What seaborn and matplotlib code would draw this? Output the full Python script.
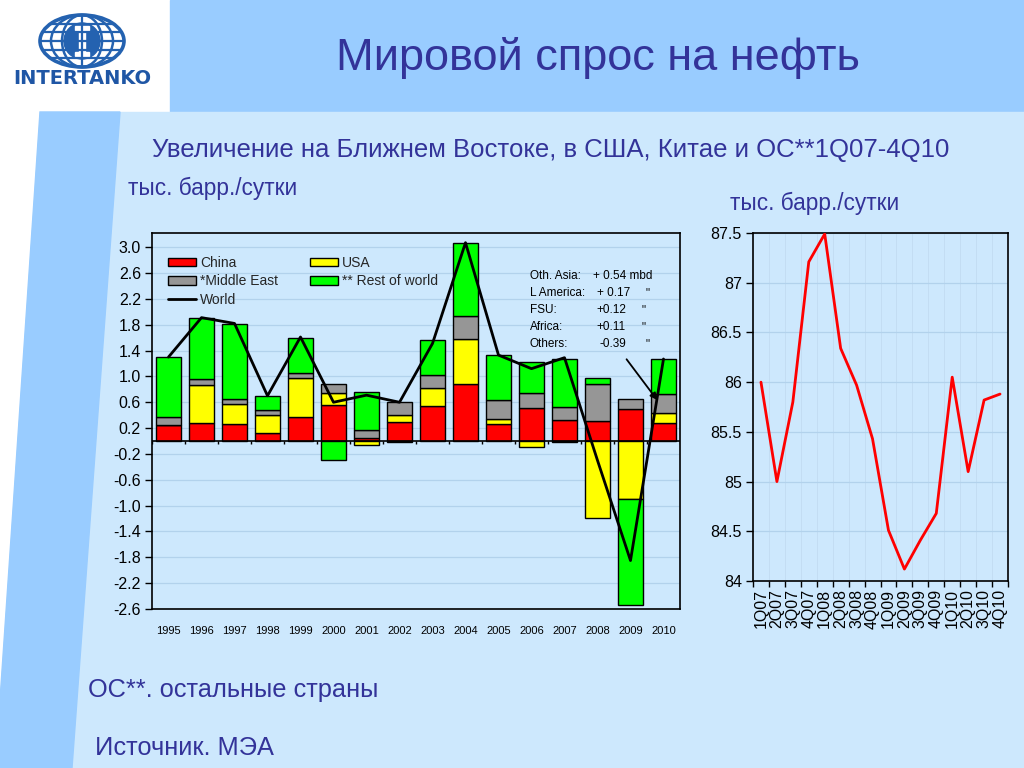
import numpy as np
import matplotlib
matplotlib.use("Agg")
import matplotlib.pyplot as plt
import matplotlib.patches as mpatches
from matplotlib.lines import Line2D
import seaborn as sns

# ---------------- data ----------------
years = [str(y) for y in range(1995, 2011)]
china = [0.25, 0.28, 0.26, 0.12, 0.37, 0.56, 0.04, 0.29, 0.54, 0.88, 0.26, 0.51, 0.32, 0.31, 0.50, 0.28]
usa = [0.00, 0.59, 0.32, 0.29, 0.60, 0.18, -0.06, 0.12, 0.28, 0.70, 0.08, -0.10, -0.02, -1.19, -0.90, 0.16]
middle_east = [0.12, 0.09, 0.065, 0.07, 0.09, 0.15, 0.13, 0.20, 0.20, 0.35, 0.30, 0.24, 0.21, 0.57, 0.15, 0.29]
rest_world = [0.93, 0.95, 1.17, 0.22, 0.54, -0.30, 0.59, -0.01, 0.54, 1.14, 0.69, 0.47, 0.74, 0.10, -1.64, 0.54]
world = [1.30, 1.91, 1.82, 0.70, 1.61, 0.60, 0.71, 0.60, 1.51, 3.07, 1.33, 1.12, 1.29, -0.30, -1.85, 1.27]

left_yticks = [-2.6, -2.2, -1.8, -1.4, -1.0, -0.6, -0.2, 0.2, 0.6, 1.0, 1.4, 1.8, 2.2, 2.6, 3.0]

quarters = ["1Q07", "2Q07", "3Q07", "4Q07", "1Q08", "2Q08", "3Q08", "4Q08",
            "1Q09", "2Q09", "3Q09", "4Q09", "1Q10", "2Q10", "3Q10", "4Q10"]
demand = [86.00, 85.00, 85.80, 87.21, 87.49, 86.34, 85.97, 85.43,
          84.51, 84.12, 84.41, 84.68, 86.05, 85.10, 85.82, 85.88]
right_yticks = [84, 84.5, 85, 85.5, 86, 86.5, 87, 87.5]

note_labels = ["Oth. Asia:", "L America:", "FSU:", "Africa:", "Others:"]
note_values = ["+ 0.54 mbd", "+ 0.17", "+0.12", "+0.11", "-0.39"]

# ---------------- style ----------------
sns.set_theme(style="white")
plt.rcParams['font.family'] = ['Liberation Sans', 'DejaVu Sans']

BG = '#cde8fd'
BAND = '#99ccff'
TXT = '#333399'
GRID = '#b2d2ec'

W, H = 1024, 768
fig = plt.figure(figsize=(10.24, 7.68), dpi=100)
fig.patch.set_facecolor('white')

def fx(x):
    return x / W

def fy(y):
    return 1 - y / H

# background shapes
fig.patches.append(mpatches.Rectangle((fx(170), fy(112)), 1 - fx(170), 112 / H,
                                      transform=fig.transFigure, color=BAND, zorder=-10))
fig.patches.append(mpatches.Polygon([(fx(40), fy(112)), (1, fy(112)), (1, 0), (0, 0), (0, fy(700))],
                                    closed=True, transform=fig.transFigure, color=BG, zorder=-10))
fig.patches.append(mpatches.Polygon([(fx(40), fy(112)), (fx(120), fy(112)), (fx(72), 0), (0, 0), (0, fy(700))],
                                    closed=True, transform=fig.transFigure, color=BAND, zorder=-10))

# ---------------- logo ----------------
lax = fig.add_axes([0, fy(110), 170 / W, 110 / H])
lax.set_xlim(0, 170)
lax.set_ylim(110, 0)
lax.axis('off')
LB = '#2462b0'
cx, cy = 82, 41
lax.add_patch(mpatches.Ellipse((cx, cy), 84, 52, fill=False, lw=2.6, ec=LB))
for w in (62, 40):
    lax.add_patch(mpatches.Ellipse((cx, cy), w, 52, fill=False, lw=1.8, ec=LB))
for dy in (-17, -9, 0, 9, 17):
    hw = 42 * np.sqrt(max(0, 1 - (dy / 26) ** 2))
    lax.plot([cx - hw, cx + hw], [cy + dy, cy + dy], color=LB, lw=1.6)
lax.plot([cx, cx], [cy - 26, cy + 26], color=LB, lw=1.6)
lax.add_patch(mpatches.Circle((cx, cy), 18, color=LB))
lax.add_patch(mpatches.Rectangle((cx - 3, cy - 13), 6, 26, color='white'))
lax.add_patch(mpatches.Rectangle((cx - 7, cy - 15), 14, 4, color='white'))
lax.add_patch(mpatches.Rectangle((cx - 7, cy + 11), 14, 4, color='white'))
lax.text(82, 78, "INTERTANKO", ha='center', va='center', color='#1f56a5',
         fontsize=14, fontweight='heavy', family='DejaVu Sans')

# ---------------- texts ----------------
fig.text(fx(598), fy(58), "Мировой спрос на нефть", ha='center', va='center', color=TXT, fontsize=32.5)
fig.text(fx(152), fy(150), "Увеличение на Ближнем Востоке, в США, Китае и ОС**1Q07-4Q10",
         ha='left', va='center', color=TXT, fontsize=18.5)
fig.text(fx(128), fy(188), "тыс. барр./сутки", ha='left', va='center', color=TXT, fontsize=16.3)
fig.text(fx(730), fy(203), "тыс. барр./сутки", ha='left', va='center', color=TXT, fontsize=16.3)
fig.text(fx(88), fy(690), "ОС**. остальные страны", ha='left', va='center', color=TXT, fontsize=18.3)
fig.text(fx(95), fy(748), "Источник. МЭА", ha='left', va='center', color=TXT, fontsize=18.3)

# ---------------- left chart ----------------
ax = fig.add_axes([fx(152), fy(609), (680 - 152) / W, (609 - 233) / H])
ax.set_facecolor(BG)
x = np.arange(len(years))
series = [(china, '#ff0000', 'China'), (usa, '#ffff00', 'USA'),
          (middle_east, '#969696', '*Middle East'), (rest_world, '#00ff00', '** Rest of world')]
pos_b = np.zeros(len(years))
neg_b = np.zeros(len(years))
for vals, col, lab in series:
    v = np.array(vals, dtype=float)
    bottoms = np.where(v >= 0, pos_b, neg_b)
    ax.bar(x, v, bottom=bottoms, width=0.76, color=col, edgecolor='black', linewidth=1, zorder=3)
    pos_b = pos_b + np.where(v >= 0, v, 0)
    neg_b = neg_b + np.where(v < 0, v, 0)

sns.lineplot(x=x, y=world, color='black', lw=2, ax=ax, zorder=5)

ax.set_xlim(-0.5, len(years) - 0.5)
ax.set_ylim(-2.6, 3.22)
ax.set_yticks(left_yticks)
ax.set_yticklabels([f"{t:.1f}" for t in left_yticks], fontsize=11.5, color='black')
ax.set_xticks(x)
ax.set_xticklabels(years, fontsize=8, color='black')
ax.tick_params(axis='x', length=0, pad=12)
ax.tick_params(axis='y', length=5, width=1, direction='out', left=True, color='black', pad=3)
ax.grid(axis='y', color=GRID, lw=0.9, zorder=0)
for s in ax.spines.values():
    s.set_color('black')
    s.set_linewidth(1.2)
ax.axhline(0, color='black', lw=1.2, zorder=4)
ax.vlines(np.arange(len(years) + 1) - 0.5, -0.05, 0, color='black', lw=1, zorder=4)

handles = [mpatches.Patch(facecolor='#ff0000', edgecolor='black', label='China'),
           mpatches.Patch(facecolor='#969696', edgecolor='black', label='*Middle East'),
           Line2D([0], [0], color='black', lw=2, label='World'),
           mpatches.Patch(facecolor='#ffff00', edgecolor='black', label='USA'),
           mpatches.Patch(facecolor='#00ff00', edgecolor='black', label='** Rest of world')]
leg = ax.legend(handles=handles, ncol=2, loc='upper left', bbox_to_anchor=(0.02, 0.953),
                frameon=False, fontsize=10, handlelength=2.0, handleheight=0.55,
                labelspacing=0.3, columnspacing=2.3, handletextpad=0.3, borderaxespad=0)

# note
val_x = [593, 597, 596, 596, 600]
quote_x = [None, 646, 641, 641, 645]
for i, (lab, val) in enumerate(zip(note_labels, note_values)):
    yy = 276 + i * 17
    fig.text(fx(530), fy(yy), lab, ha='left', va='center', fontsize=8.5, color='black')
    fig.text(fx(val_x[i]), fy(yy), val, ha='left', va='center', fontsize=8.5, color='black')
    if quote_x[i] is not None:
        fig.text(fx(quote_x[i]), fy(yy), '"', ha='left', va='center', fontsize=8.5, color='black')
ax.annotate('', xy=(14.86, 0.60), xytext=(13.83, 1.30),
            arrowprops=dict(arrowstyle='-|>', color='black', lw=1.3, mutation_scale=10), zorder=6)

# ---------------- right chart ----------------
ax2 = fig.add_axes([fx(753), fy(581), (1008 - 753) / W, (581 - 233) / H])
ax2.set_facecolor(BG)
q = np.arange(len(quarters))
sns.lineplot(x=q, y=demand, color='#ff0000', lw=2, ax=ax2, zorder=4)
ax2.set_xlim(-0.5, len(quarters) - 0.5)
ax2.set_ylim(84, 87.5)
ax2.set_yticks(right_yticks)
ax2.set_yticklabels([f"{t:g}" for t in right_yticks], fontsize=11.5, color='black')
ax2.set_xticks(q)
ax2.set_xticklabels(quarters, rotation=90, fontsize=11.5, color='black')
ax2.set_xticks(np.arange(len(quarters) + 1) - 0.5, minor=True)
ax2.tick_params(axis='x', which='major', length=0, pad=6)
ax2.tick_params(axis='x', which='minor', length=4, width=1, direction='out', bottom=True, color='black')
ax2.tick_params(axis='y', length=5, width=1, direction='out', left=True, color='black', pad=3)
ax2.grid(axis='y', color=GRID, lw=0.9, zorder=0)
ax2.grid(axis='x', which='minor', color='#c2dcf2', lw=0.6, zorder=0)
for s in ax2.spines.values():
    s.set_color('black')
    s.set_linewidth(1.2)

fig.savefig("out.png", dpi=100, facecolor=fig.get_facecolor())
